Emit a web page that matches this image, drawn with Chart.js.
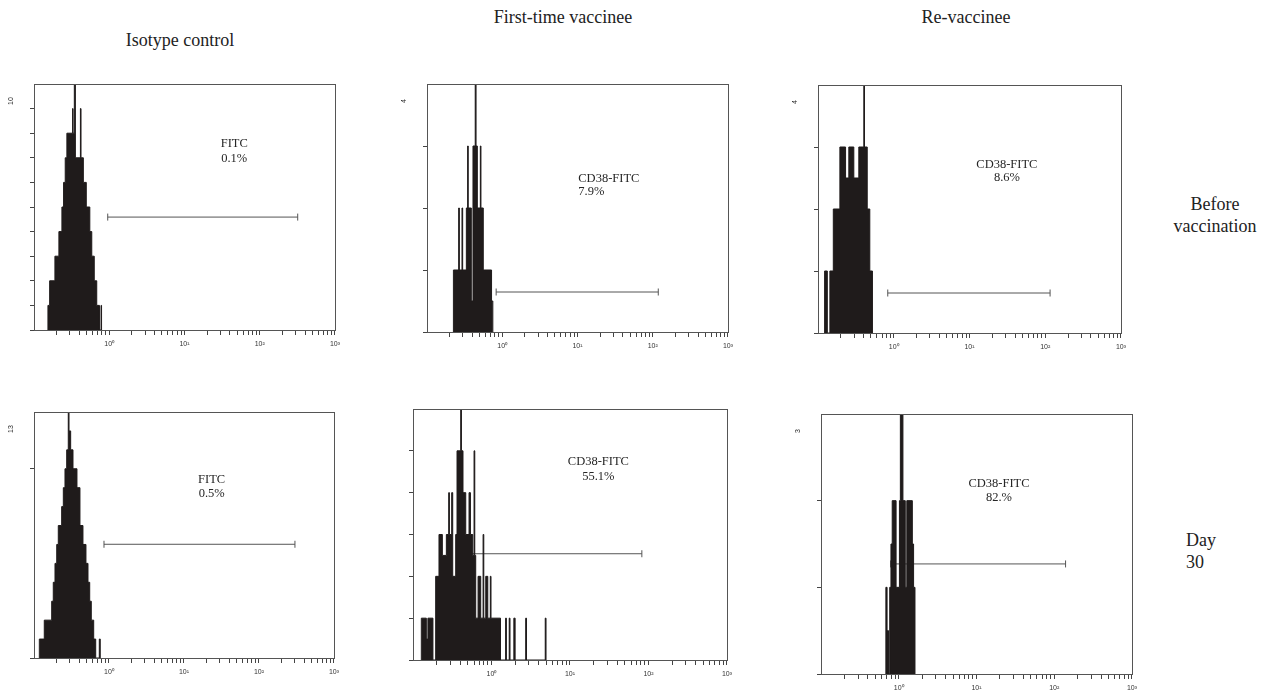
<!DOCTYPE html>
<html>
<head>
<meta charset="utf-8">
<script src="https://cdn.jsdelivr.net/npm/chart.js@4.4.0/dist/chart.umd.min.js"></script>
<style>
  body { margin: 0; width: 1270px; height: 696px; position: relative; overflow: hidden; background: #fff;
         font-family: "Liberation Serif", "Times New Roman", serif; color: #222; }
  .txt { position: absolute; font-size: 18px; line-height: 22px; white-space: nowrap; }
  .mid { transform: translateX(-50%); text-align: center; }
  canvas { position: absolute; }
</style>
</head>
<body>
<div class="txt mid" style="left:180px; top:29px;">Isotype control</div>
<div class="txt mid" style="left:563px; top:6px;">First-time vaccinee</div>
<div class="txt mid" style="left:966px; top:6px;">Re-vaccinee</div>
<div class="txt mid" style="left:1215px; top:193px;">Before<br>vaccination</div>
<div class="txt" style="left:1186px; top:529px;">Day<br>30</div>

<canvas id="p0"></canvas>
<canvas id="p1"></canvas>
<canvas id="p2"></canvas>
<canvas id="p3"></canvas>
<canvas id="p4"></canvas>
<canvas id="p5"></canvas>

<script>
// x axis: log fluorescence, 10^-1 .. 10^3
const xTickValues = [0.2, 0.3, 0.4, 0.5, 0.6, 0.7, 0.8, 0.9,
  1, 2, 3, 4, 5, 6, 7, 8, 9,
  10, 20, 30, 40, 50, 60, 70, 80, 90,
  100, 200, 300, 400, 500, 600, 700, 800, 900, 1000];
const decadeValues = [1, 10, 100, 1000];
const decadeLabels = ["10\u2070", "10\u00b9", "10\u00b2", "10\u00b3"];

// histograms: bin edges (log10 of fluorescence) and counts per bin
// isotype control, before vaccination
const isoBeforeEdges = [-0.815, -0.792, -0.722, -0.669, -0.629, -0.607, -0.585, -0.563, -0.487, -0.481,
  -0.464, -0.450, -0.383, -0.375, -0.344, -0.305, -0.258, -0.232, -0.199, -0.166, -0.130, -0.109, -0.102];
const isoBeforeCounts = [1, 2, 3, 4, 5, 6, 7, 8, 9, 8, 10, 7, 9, 7, 6, 5, 4, 3, 2, 1, 0, 1];

// first-time vaccinee, before vaccination
const firstBeforeEdges = [-0.649, -0.579, -0.570, -0.535, -0.526, -0.477, -0.460, -0.452, -0.411,
  -0.389, -0.359, -0.348, -0.331, -0.291, -0.283, -0.252, -0.142, -0.125];
const firstBeforeCounts = [1, 2, 1, 2, 1, 2, 3, 2, 0.5, 3, 4, 3, 2, 3, 2, 1, 0.5];

// re-vaccinee, before vaccination
const reBeforeEdges = [-0.913, -0.877, -0.843, -0.798, -0.711, -0.636, -0.593, -0.527, -0.461,
  -0.395, -0.386, -0.350, -0.316, -0.281];
const reBeforeCounts = [1, 0, 1, 2, 3, 2.5, 3, 2.5, 3, 4, 3, 2, 1];

// isotype control, day 30
const isoDayEdges = [-0.929, -0.863, -0.764, -0.743, -0.720, -0.697, -0.676, -0.631, -0.609, -0.587,
  -0.564, -0.543, -0.533, -0.511, -0.480, -0.427, -0.387, -0.347, -0.307, -0.280, -0.257, -0.236,
  -0.204, -0.177, -0.129, -0.116];
const isoDayCounts = [1, 2, 3, 4, 5, 6, 7, 8, 9, 10, 11, 13, 12, 11, 10, 9, 7, 6, 5, 4, 3, 2, 1, 0, 1];

// first-time vaccinee, day 30
const firstDayEdges = [-0.894, -0.830, -0.810, -0.746, -0.711, -0.669, -0.626, -0.575, -0.545, -0.536,
  -0.507, -0.494, -0.456, -0.439, -0.392, -0.383, -0.363, -0.328, -0.286, -0.268, -0.239, -0.222,
  -0.213, -0.201, -0.171, -0.137, -0.107, -0.098, -0.073, -0.047, -0.015, -0.006, 0.115, 0.180,
  0.190, 0.226, 0.236, 0.285, 0.301, 0.436, 0.446, 0.685, 0.695];
const firstDayCounts = [1, 0.5, 1, 0, 2, 3, 2.5, 3, 4, 3, 4, 2, 3, 5, 6, 5, 4, 3, 4, 3, 2.5, 5, 2.5,
  1, 2, 1, 3, 1, 2, 1, 2, 1, 0, 1, 0, 1, 0, 1, 0, 1, 0, 1];

// re-vaccinee, day 30
const reDayEdges = [-0.166, -0.150, -0.131, -0.116, -0.100, -0.084, -0.034, 0.009, 0.021, 0.054,
  0.084, 0.104, 0.175, 0.191, 0.209];
const reDayCounts = [1, 0.5, 0, 1, 1.5, 2, 1, 2, 3, 2, 1, 2, 1.5, 1];

// per panel: y range, y ticks, gate marker, annotation text
const yMax = [10, 4, 4, 13, 6, 3];
const yTicks = [[0, 1, 2, 3, 4, 5, 6, 7, 8, 9], [0, 1, 2, 3], [0, 1, 2, 3], [0, 10], [0, 1, 2, 3, 4, 5], [0, 1, 2]];
const yTopLabels = ["10", "4", "4", "13", "", "3"];
const gateFrom = [0.955, 0.83, 0.834, 0.858, 0.556, 0.787];
const gateTo = [320, 118.6, 116, 302, 82.4, 140];
const gateLevel = [4.59, 0.645, 0.645, 6.01, 2.54, 1.27];
const markerNames = ["FITC", "CD38-FITC", "CD38-FITC", "FITC", "CD38-FITC", "CD38-FITC"];
const markerPercents = ["0.1%", "7.9%", "8.6%", "0.5%", "55.1%", "82.%"];

const histEdges = [isoBeforeEdges, firstBeforeEdges, reBeforeEdges, isoDayEdges, firstDayEdges, reDayEdges];
const histCounts = [isoBeforeCounts, firstBeforeCounts, reBeforeCounts, isoDayCounts, firstDayCounts, reDayCounts];

// layout: plot box [left, top, right, bottom] in page pixels and text placement (data units)
const boxes = [[34, 84, 335, 330], [427, 84, 728, 332], [818, 85, 1121, 333],
  [34, 412, 334, 658], [413, 409, 727, 660], [821, 414, 1132, 674]];
const textSpots = [
  { x: 45.9, y: [7.57, 6.96], align: "center" },
  { x: 10.25, y: [2.47, 2.26], align: "left" },
  { x: 31.2, y: [2.71, 2.5], align: "center" },
  { x: 23.4, y: [9.44, 8.66], align: "center" },
  { x: 23, y: [4.74, 4.39], align: "center" },
  { x: 19.5, y: [2.2, 2.03], align: "center" },
];

const Y_AXIS_W = 30, X_AXIS_H = 22, PAD_TOP = 8, PAD_RIGHT = 10;
const INK = "#1f1b1b";

function histPoints(edges, counts) {
  const pts = [{ x: 10 ** edges[0], y: 0 }];
  counts.forEach((c, i) => pts.push({ x: 10 ** edges[i], y: c }));
  pts.push({ x: 10 ** edges[edges.length - 1], y: 0 });
  return pts;
}

// frame around the plot, rotated top count label, marker text
const panelDeco = {
  id: "panelDeco",
  afterDatasetsDraw(chart, args, opts) {
    const { ctx, chartArea: a } = chart;
    const xs = chart.scales.x, ys = chart.scales.y;
    ctx.save();
    ctx.strokeStyle = "#555";
    ctx.lineWidth = 1;
    ctx.strokeRect(Math.round(a.left) + 0.5, Math.round(a.top) + 0.5,
      Math.round(a.right - a.left), Math.round(a.bottom - a.top));

    ctx.fillStyle = "#262626";
    ctx.font = '12.5px "Liberation Serif", "Times New Roman", serif';
    ctx.textAlign = opts.spot.align;
    ctx.textBaseline = "middle";
    opts.lines.forEach((t, k) => {
      ctx.fillText(t, xs.getPixelForValue(opts.spot.x), ys.getPixelForValue(opts.spot.y[k]));
    });

    if (opts.topLabel) {
      ctx.translate(a.left - 23, a.top + 17);
      ctx.rotate(-Math.PI / 2);
      ctx.font = '7px "Liberation Sans", Arial, sans-serif';
      ctx.textAlign = "center";
      ctx.fillText(opts.topLabel, 0, 0);
    }
    ctx.restore();
  },
};

boxes.forEach((b, i) => {
  const canvas = document.getElementById("p" + i);
  const w = b[2] - b[0] + Y_AXIS_W + PAD_RIGHT;
  const h = b[3] - b[1] + PAD_TOP + X_AXIS_H;
  canvas.width = w;
  canvas.height = h;
  canvas.style.left = (b[0] - Y_AXIS_W) + "px";
  canvas.style.top = (b[1] - PAD_TOP) + "px";

  new Chart(canvas.getContext("2d"), {
    type: "line",
    data: {
      datasets: [
        {
          data: histPoints(histEdges[i], histCounts[i]),
          stepped: "before",
          fill: "origin",
          backgroundColor: INK,
          borderColor: INK,
          borderWidth: 1,
          pointRadius: 0,
        },
        {
          data: [{ x: gateFrom[i], y: gateLevel[i] }, { x: gateTo[i], y: gateLevel[i] }],
          borderColor: "#555",
          borderWidth: 1,
          fill: false,
          pointStyle: "line",
          pointRotation: 90,
          pointRadius: 3.5,
          pointBorderColor: "#555",
          pointBorderWidth: 1,
        },
      ],
    },
    options: {
      responsive: false,
      animation: false,
      layout: { padding: { top: PAD_TOP, right: PAD_RIGHT, left: 0, bottom: 0 } },
      plugins: {
        legend: { display: false },
        tooltip: { enabled: false },
        panelDeco: {
          lines: [markerNames[i], markerPercents[i]],
          spot: textSpots[i],
          topLabel: yTopLabels[i],
        },
      },
      scales: {
        x: {
          type: "logarithmic",
          min: 0.1,
          max: 1000,
          afterBuildTicks: (scale) => {
            scale.ticks = xTickValues.map((v) => ({ value: v, major: decadeValues.includes(v) }));
          },
          afterFit: (scale) => { scale.height = X_AXIS_H; },
          border: { display: false },
          grid: { drawOnChartArea: false, tickLength: 5, color: "#444" },
          ticks: {
            autoSkip: false,
            maxRotation: 0,
            padding: 5,
            color: "#333",
            font: { family: '"Liberation Sans", Arial, sans-serif', size: 7 },
            callback: (v) => {
              const k = decadeValues.indexOf(v);
              return k >= 0 ? decadeLabels[k] : "";
            },
          },
        },
        y: {
          min: 0,
          max: yMax[i],
          afterBuildTicks: (scale) => {
            scale.ticks = yTicks[i].map((v) => ({ value: v }));
          },
          afterFit: (scale) => { scale.width = Y_AXIS_W; },
          border: { display: false },
          grid: { drawOnChartArea: false, tickLength: 4, color: "#444" },
          ticks: { autoSkip: false, font: { size: 6 }, callback: () => "" },
        },
      },
    },
    plugins: [panelDeco],
  });
});
</script>
</body>
</html>
